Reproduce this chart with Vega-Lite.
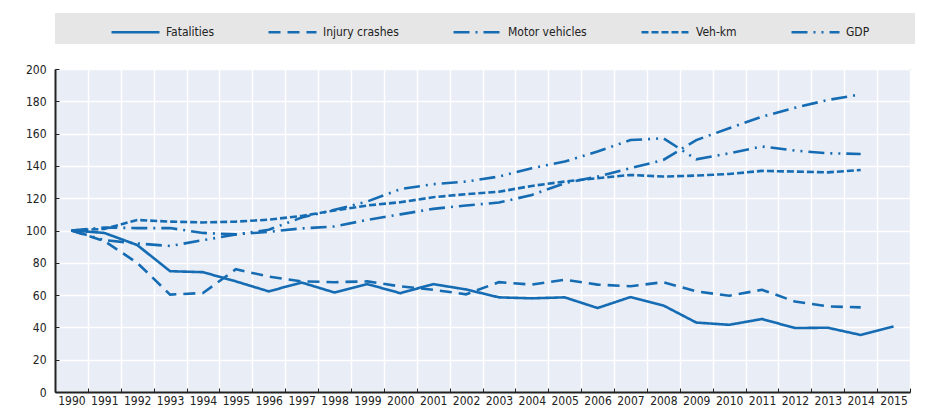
{
  "$schema": "https://vega.github.io/schema/vega-lite/v6.json",
  "width": 855,
  "height": 323,
  "padding": {"left": 25, "right": 17, "top": 13, "bottom": 4},
  "background": "white",
  "data": {
    "values": [
      {"year": "1990", "Fatalities": 100, "Injury crashes": 100, "Motor vehicles": 100, "Veh-km": 100, "GDP": 100},
      {"year": "1991", "Fatalities": 98.5, "Injury crashes": 93.5, "Motor vehicles": 101.8, "Veh-km": 101, "GDP": 94},
      {"year": "1992", "Fatalities": 91, "Injury crashes": 80, "Motor vehicles": 101.5, "Veh-km": 106.5, "GDP": 92},
      {"year": "1993", "Fatalities": 74.8, "Injury crashes": 60.3, "Motor vehicles": 101.5, "Veh-km": 105.5, "GDP": 90.4},
      {"year": "1994", "Fatalities": 74.2, "Injury crashes": 61.3, "Motor vehicles": 98.5, "Veh-km": 105, "GDP": 94},
      {"year": "1995", "Fatalities": 68.5, "Injury crashes": 76, "Motor vehicles": 97.6, "Veh-km": 105.5, "GDP": 97.5},
      {"year": "1996", "Fatalities": 62.3, "Injury crashes": 71.5, "Motor vehicles": 99.2, "Veh-km": 106.7, "GDP": 100.5},
      {"year": "1997", "Fatalities": 67.8, "Injury crashes": 68.5, "Motor vehicles": 101.3, "Veh-km": 109, "GDP": 108},
      {"year": "1998", "Fatalities": 61.6, "Injury crashes": 68, "Motor vehicles": 102.5, "Veh-km": 112.4, "GDP": 112.8},
      {"year": "1999", "Fatalities": 66.8, "Injury crashes": 68.5, "Motor vehicles": 106.6, "Veh-km": 115.5, "GDP": 118},
      {"year": "2000", "Fatalities": 61.2, "Injury crashes": 65.4, "Motor vehicles": 110, "Veh-km": 117.5, "GDP": 125.6},
      {"year": "2001", "Fatalities": 66.8, "Injury crashes": 63.3, "Motor vehicles": 113.4, "Veh-km": 120.6, "GDP": 128.7},
      {"year": "2002", "Fatalities": 63.5, "Injury crashes": 60.5, "Motor vehicles": 115.5, "Veh-km": 122.5, "GDP": 130.3},
      {"year": "2003", "Fatalities": 58.6, "Injury crashes": 68, "Motor vehicles": 117.3, "Veh-km": 124, "GDP": 133.4},
      {"year": "2004", "Fatalities": 58, "Injury crashes": 66.5, "Motor vehicles": 122, "Veh-km": 127.6, "GDP": 138.6},
      {"year": "2005", "Fatalities": 58.6, "Injury crashes": 69.5, "Motor vehicles": 129.3, "Veh-km": 130.3, "GDP": 142.7},
      {"year": "2006", "Fatalities": 52, "Injury crashes": 66.5, "Motor vehicles": 133.4, "Veh-km": 132.4, "GDP": 148.9},
      {"year": "2007", "Fatalities": 58.8, "Injury crashes": 65.5, "Motor vehicles": 138.6, "Veh-km": 134.4, "GDP": 156},
      {"year": "2008", "Fatalities": 53.6, "Injury crashes": 68, "Motor vehicles": 143.7, "Veh-km": 133.4, "GDP": 157.1},
      {"year": "2009", "Fatalities": 43, "Injury crashes": 62.3, "Motor vehicles": 156, "Veh-km": 134, "GDP": 144.1},
      {"year": "2010", "Fatalities": 41.6, "Injury crashes": 59.6, "Motor vehicles": 163.3, "Veh-km": 135, "GDP": 147.8},
      {"year": "2011", "Fatalities": 45.2, "Injury crashes": 63.3, "Motor vehicles": 170.5, "Veh-km": 136.9, "GDP": 152},
      {"year": "2012", "Fatalities": 39.6, "Injury crashes": 56, "Motor vehicles": 176, "Veh-km": 136.5, "GDP": 149.5},
      {"year": "2013", "Fatalities": 39.8, "Injury crashes": 53, "Motor vehicles": 180.8, "Veh-km": 136, "GDP": 147.8},
      {"year": "2014", "Fatalities": 35.3, "Injury crashes": 52.4, "Motor vehicles": 184.3, "Veh-km": 137.5, "GDP": 147.4},
      {"year": "2015", "Fatalities": 40.6}
    ]
  },
  "transform": [
    {"fold": ["Fatalities", "Injury crashes", "Motor vehicles", "Veh-km", "GDP"], "as": ["series", "value"]}
  ],
  "mark": {"type": "line", "strokeWidth": 2.6, "color": "#166cb3", "strokeCap": "butt"},
  "encoding": {
    "x": {
      "field": "year",
      "type": "ordinal",
      "scale": {"type": "band", "paddingInner": 0, "paddingOuter": 0},
      "bandPosition": 0.5,
      "axis": {
        "title": null,
        "labelAngle": 0,
        "tickBand": "extent",
        "grid": true,
        "gridColor": "white",
        "gridWidth": 1.5,
        "domainColor": "#222222",
        "domainWidth": 2,
        "tickColor": "#222222",
        "tickSize": -4,
        "labelPadding": 7,
        "labelFont": "DejaVu Sans Condensed, Liberation Sans Narrow, Liberation Sans",
        "labelFontSize": 12,
        "labelColor": "#222222"
      }
    },
    "y": {
      "field": "value",
      "type": "quantitative",
      "scale": {"domain": [0, 200]},
      "axis": {
        "title": null,
        "values": [0, 20, 40, 60, 80, 100, 120, 140, 160, 180, 200],
        "grid": true,
        "gridColor": "white",
        "gridWidth": 1.5,
        "domainColor": "#222222",
        "domainWidth": 2,
        "tickColor": "#222222",
        "tickSize": -4,
        "labelPadding": 13,
        "labelFont": "DejaVu Sans Condensed, Liberation Sans Narrow, Liberation Sans",
        "labelFontSize": 12,
        "labelColor": "#222222"
      }
    },
    "strokeDash": {
      "field": "series",
      "type": "nominal",
      "sort": ["Fatalities", "Injury crashes", "Motor vehicles", "Veh-km", "GDP"],
      "scale": {
        "domain": ["Fatalities", "Injury crashes", "Motor vehicles", "Veh-km", "GDP"],
        "range": [[1, 0], [12, 7], [16, 6, 2, 6], [7, 3], [16, 6, 2, 6, 2, 6]]
      },
      "legend": {
        "title": null,
        "orient": "none",
        "legendX": 0,
        "legendY": -56,
        "direction": "horizontal",
        "fillColor": "#e6e6e6",
        "padding": 5.5,
        "columnPadding": 3,
        "symbolOffset": 49.5,
        "symbolType": "M-1,0H3",
        "symbolSize": 576,
        "symbolStrokeWidth": 2.6,
        "symbolStrokeColor": "#166cb3",
        "symbolFillColor": "transparent",
        "labelFont": "DejaVu Sans Condensed, Liberation Sans Narrow, Liberation Sans",
        "labelFontSize": 12,
        "labelColor": "#222222",
        "labelOffset": 29,
        "labelExpr": "datum.label === 'GDP' ? 'GDP\u2800\u2800\u2800\u2800\u2800' : datum.label"
      }
    }
  },
  "config": {
    "view": {"fill": "#e9edf6", "stroke": "#555555", "strokeWidth": 1}
  }
}
